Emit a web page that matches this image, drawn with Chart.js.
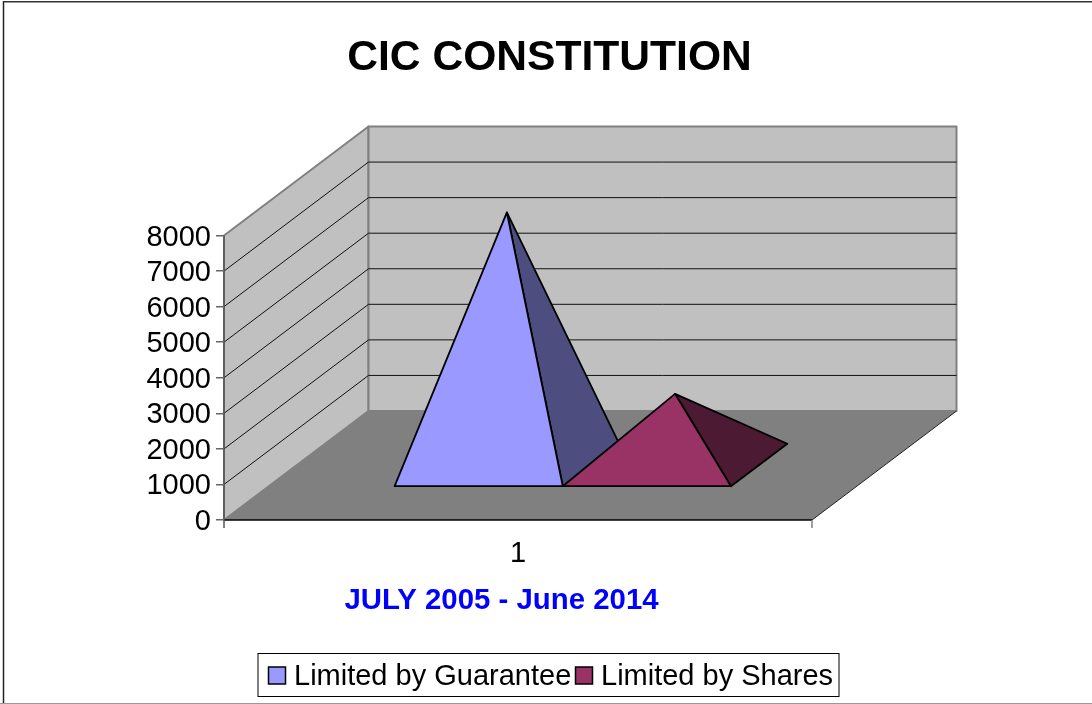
<!DOCTYPE html>
<html lang="en">
<head>
  <meta charset="UTF-8" />
  <title>CIC Constitution</title>
  <script src="https://cdn.jsdelivr.net/npm/chart.js"></script>
  <style>
    html, body { margin: 0; padding: 0; background: #fff; }
    canvas { display: block; }
  </style>
</head>
<body>
  <canvas id="chart" width="1092" height="704"></canvas>
  <script>
    const categories = ['1'];
    const seriesNames = ['Limited by Guarantee', 'Limited by Shares'];
    const guaranteeValues = [7100];
    const sharesValues = [2000];
    const frontColors = ['#9999ff', '#993366'];
    const sideColors = ['#4d4d80', '#4d1a33'];
    const chartTitle = 'CIC CONSTITUTION';
    const xAxisTitle = 'JULY 2005 - June 2014';

    const FONT = '"Liberation Sans", Arial, sans-serif';
    // how far the 3D floor runs back from the front edge
    const depthX = 144.5;
    const depthY = 109;
    // where the pyramid bases sit inside that depth
    const baseFront = 0.31;
    const baseBack = 0.70;

    function poly(ctx, pts, fill, stroke, lw) {
      ctx.beginPath();
      pts.forEach((p, i) => i ? ctx.lineTo(p[0], p[1]) : ctx.moveTo(p[0], p[1]));
      ctx.closePath();
      if (fill) { ctx.fillStyle = fill; ctx.fill(); }
      if (stroke) { ctx.strokeStyle = stroke; ctx.lineWidth = lw; ctx.lineJoin = 'round'; ctx.stroke(); }
    }

    function line(ctx, x1, y1, x2, y2, color, lw) {
      ctx.beginPath();
      ctx.moveTo(x1, y1);
      ctx.lineTo(x2, y2);
      ctx.strokeStyle = color;
      ctx.lineWidth = lw;
      ctx.stroke();
    }

    const scene3d = {
      id: 'scene3d',
      beforeDraw(chart) {
        const ctx = chart.ctx;
        const { left, right, top, bottom } = chart.chartArea;
        const y = chart.scales.y;
        ctx.save();

        // outer frame, no line on the right side
        line(ctx, 3.5, 1, 3.5, 704, '#222', 1.5);
        line(ctx, 3, 1.8, 1092, 1.8, '#333', 1.5);
        line(ctx, 0, 703.5, 1092, 703.5, '#999', 1);

        // walls and floor
        poly(ctx, [[left, bottom], [left, top], [left + depthX, top - depthY], [left + depthX, bottom - depthY]], '#c0c0c0', '#808080', 2);
        poly(ctx, [[left + depthX, bottom - depthY], [left + depthX, top - depthY], [right + depthX, top - depthY], [right + depthX, bottom - depthY]], '#c0c0c0', '#808080', 2);
        poly(ctx, [[left, bottom], [left + depthX, bottom - depthY], [right + depthX, bottom - depthY], [right, bottom]], '#808080');
        line(ctx, right, bottom, right + depthX, bottom - depthY, '#222', 1);

        // gridlines run along the side wall then the back wall
        y.ticks.forEach(t => {
          if (t.value === 0 || t.value === y.max) return;
          const py = y.getPixelForValue(t.value);
          ctx.beginPath();
          ctx.moveTo(left, py);
          ctx.lineTo(left + depthX, py - depthY);
          ctx.lineTo(right + depthX, py - depthY);
          ctx.strokeStyle = '#111';
          ctx.lineWidth = 1;
          ctx.stroke();
        });

        // front edge and the end ticks of the category axis
        line(ctx, left, bottom, right, bottom, '#000', 1.5);
        line(ctx, left, top, left, bottom + 8, '#555', 1.5);
        line(ctx, right, bottom, right, bottom + 8, '#808080', 1.5);
        ctx.restore();
      },
      beforeDatasetsDraw(chart) {
        const ctx = chart.ctx;
        const floor = chart.scales.y.getPixelForValue(0);
        ctx.save();
        chart.data.datasets.forEach((ds, i) => {
          const bar = chart.getDatasetMeta(i).data[0];
          const half = bar.width / 2;
          const mid = (baseFront + baseBack) / 2;
          const fl = [bar.x - half + baseFront * depthX, floor - baseFront * depthY];
          const fr = [bar.x + half + baseFront * depthX, floor - baseFront * depthY];
          const br = [bar.x + half + baseBack * depthX, floor - baseBack * depthY];
          const apex = [bar.x + mid * depthX, bar.y - mid * depthY];
          poly(ctx, [apex, fr, br], sideColors[i], '#000', 1.8);
          poly(ctx, [apex, fl, fr], frontColors[i], '#000', 1.8);
        });
        ctx.restore();
        return false; // the bars themselves stay undrawn, pyramids replace them
      },
      afterDraw(chart) {
        const ctx = chart.ctx;
        ctx.save();
        ctx.textBaseline = 'middle';
        ctx.textAlign = 'center';
        ctx.fillStyle = '#000';
        ctx.font = 'bold 42.6px ' + FONT;
        ctx.fillText(chartTitle, 549.5, 58);
        ctx.fillStyle = '#0000ff';
        ctx.font = 'bold 29.4px ' + FONT;
        ctx.fillText(xAxisTitle, 501.5, 601);

        // legend
        ctx.fillStyle = '#fff';
        ctx.fillRect(258, 653.5, 581, 43);
        ctx.strokeStyle = '#000';
        ctx.lineWidth = 1;
        ctx.strokeRect(258, 653.5, 581, 43);
        ctx.textAlign = 'left';
        ctx.font = '29px ' + FONT;
        const items = [[268.5, 294], [575.5, 601]];
        chart.data.datasets.forEach((ds, i) => {
          ctx.fillStyle = frontColors[i];
          ctx.fillRect(items[i][0], 667, 17, 17);
          ctx.strokeStyle = '#000';
          ctx.lineWidth = 1.5;
          ctx.strokeRect(items[i][0], 667, 17, 17);
          ctx.fillStyle = '#000';
          ctx.fillText(ds.label, items[i][1], 677);
        });
        ctx.restore();
      }
    };

    new Chart(document.getElementById('chart'), {
      type: 'bar',
      data: {
        labels: categories,
        datasets: [
          { label: seriesNames[0], data: guaranteeValues, backgroundColor: frontColors[0] },
          { label: seriesNames[1], data: sharesValues, backgroundColor: frontColors[1] }
        ]
      },
      options: {
        responsive: false,
        animation: false,
        layout: { padding: { left: 0, top: 235.5, right: 280, bottom: 0 } },
        datasets: { bar: { barPercentage: 1, categoryPercentage: 0.572 } },
        plugins: { legend: { display: false }, title: { display: false }, tooltip: { enabled: false } },
        scales: {
          x: {
            afterFit(scale) { scale.height = 184; },
            grid: { display: false },
            border: { display: false },
            ticks: { color: '#000', font: { family: FONT, size: 29 }, padding: 9 }
          },
          y: {
            min: 0,
            max: 8000,
            afterFit(scale) { scale.width = 224; },
            grid: { drawOnChartArea: false, drawTicks: true, tickLength: 8, color: '#666', lineWidth: 1.5 },
            border: { display: false },
            ticks: {
              stepSize: 1000,
              autoSkip: false,
              color: '#000',
              font: { family: FONT, size: 29 },
              padding: 5,
              labelOffset: 2,
              callback: v => String(v)
            }
          }
        }
      },
      plugins: [scene3d]
    });
  </script>
</body>
</html>
